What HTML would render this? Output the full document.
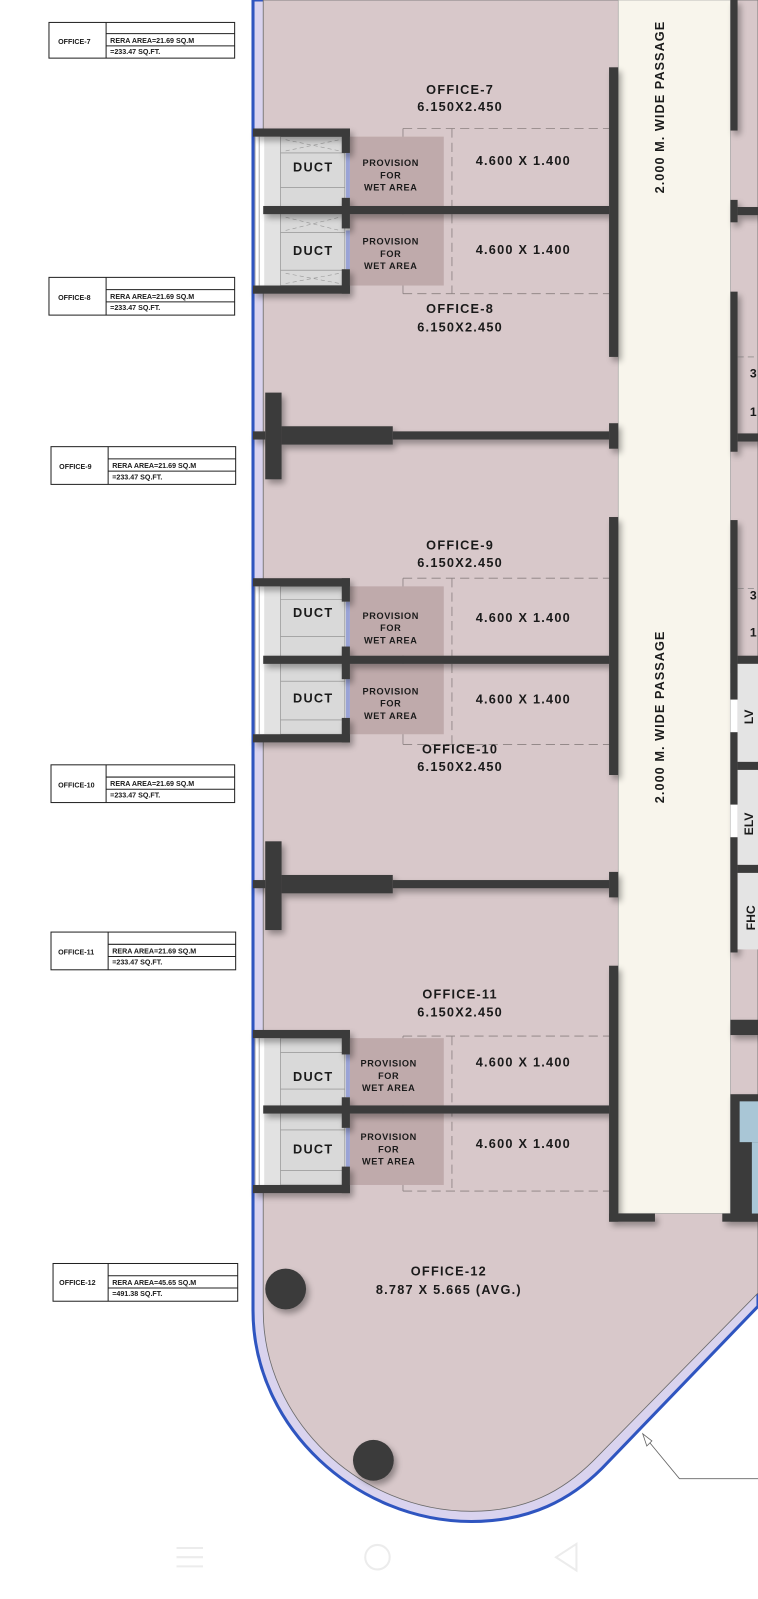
<!DOCTYPE html>
<html><head><meta charset="utf-8"><style>
html,body{margin:0;padding:0;background:#fff;}
svg{display:block;}
text{font-family:"Liberation Sans",Arial,sans-serif;font-weight:bold;fill:#1a1a1a;}
</style></head><body>
<svg width="758" height="1599" viewBox="0 0 743 1568" preserveAspectRatio="none" xmlns="http://www.w3.org/2000/svg">
<defs>
<filter id="sh" x="-20%" y="-20%" width="160%" height="160%"><feGaussianBlur in="SourceAlpha" stdDeviation="3"/><feOffset dx="3" dy="4"/><feComponentTransfer><feFuncA type="linear" slope="0.35"/></feComponentTransfer><feMerge><feMergeNode/><feMergeNode in="SourceGraphic"/></feMerge></filter>
</defs>
<rect width="743" height="1568" fill="#fff"/>
<!-- outer building -->
<path d="M248,0 L248,1285 C248,1400 350,1492 462,1492 C520,1492 560,1470 590,1440 L743,1281 L743,0 Z" fill="#d9d3ee" stroke="#2f55c0" stroke-width="3"/>
<path d="M258,0 L258,1285 C258,1392 352,1482 462,1482 C516,1482 552,1462 582,1432 L743,1268 L743,0 Z" fill="#d8c8ca" stroke="#6a6a6a" stroke-width="0.8"/>
<!-- passage -->
<rect x="606" y="0" width="110" height="1190" fill="#f8f5ec" stroke="#9a9a9a" stroke-width="0.6"/>
<text transform="translate(651,105) rotate(-90)" text-anchor="middle" font-size="12.5" letter-spacing="1">2.000 M. WIDE PASSAGE</text>
<text transform="translate(651,703) rotate(-90)" text-anchor="middle" font-size="12.5" letter-spacing="1">2.000 M. WIDE PASSAGE</text>

<!-- dashed room outlines -->
<g fill="none" stroke="#8a8080" stroke-width="0.8" stroke-dasharray="9,5">
<path d="M395,126 H597 M395,288 H597 M443,126 V288"/>
<path d="M395,567 H597 M395,730 H597 M443,567 V730"/>
<path d="M395,1016 H597 M395,1168 H597 M443,1016 V1168"/>
</g>
<g stroke="#8a8080" stroke-width="0.8">
<path d="M395,126 V288 M395,567 V730 M395,1016 V1168"/>
</g>

<!-- provision boxes -->
<g fill="#bfaaab">
<rect x="343" y="134" width="92" height="68"/><rect x="343" y="210" width="92" height="70"/>
<rect x="343" y="575" width="92" height="68"/><rect x="343" y="651" width="92" height="69"/>
<rect x="343" y="1018" width="92" height="66"/><rect x="343" y="1092" width="92" height="70"/>
</g>

<!-- duct blocks -->
<g id="ducts">
<g>
<rect x="250" y="134" width="93" height="146" fill="#e2e2e2"/>
<rect x="250" y="134" width="9" height="146" fill="#fff"/>
<rect x="275" y="134" width="63" height="146" fill="#d9d9d9" stroke="#888" stroke-width="0.6"/>
<path d="M275,150 H338 M275,184 H338 M275,228 H338 M275,265 H338" stroke="#888" stroke-width="0.6"/>
<path d="M280,137 L333,148 M280,148 L333,137 M280,268 L333,278 M280,278 L333,268 M280,213 L333,226 M280,226 L333,213" stroke="#999" stroke-width="0.6" stroke-dasharray="4,3"/>
<rect x="339" y="150" width="4" height="44" fill="#9aa3d6"/><rect x="339" y="226" width="4" height="38" fill="#9aa3d6"/>
</g>
<g>
<rect x="250" y="575" width="93" height="145" fill="#e2e2e2"/>
<rect x="250" y="575" width="9" height="145" fill="#fff"/>
<rect x="275" y="575" width="63" height="145" fill="#d9d9d9" stroke="#888" stroke-width="0.6"/>
<path d="M275,588 H338 M275,624 H338 M275,668 H338 M275,706 H338" stroke="#888" stroke-width="0.6"/>
<rect x="339" y="590" width="4" height="44" fill="#9aa3d6"/><rect x="339" y="666" width="4" height="38" fill="#9aa3d6"/>
</g>
<g>
<rect x="250" y="1018" width="93" height="144" fill="#e2e2e2"/>
<rect x="250" y="1018" width="9" height="144" fill="#fff"/>
<rect x="275" y="1018" width="63" height="144" fill="#d9d9d9" stroke="#888" stroke-width="0.6"/>
<path d="M275,1032 H338 M275,1068 H338 M275,1108 H338 M275,1148 H338" stroke="#888" stroke-width="0.6"/>
<rect x="339" y="1034" width="4" height="42" fill="#9aa3d6"/><rect x="339" y="1106" width="4" height="38" fill="#9aa3d6"/>
</g>
</g>
<!-- window ladder on left facade -->
<g stroke="#777" stroke-width="0.6" fill="none">
<path d="M250,134 V280 M254,134 V280 M250,575 V720 M254,575 V720 M250,1018 V1162 M254,1018 V1162"/>
</g>

<!-- walls -->
<g fill="#3b3b3b" filter="url(#sh)">
<!-- duct pair 1 -->
<rect x="248" y="126" width="95" height="8"/><rect x="335" y="126" width="8" height="24"/><rect x="335" y="194" width="8" height="30"/>
<rect x="258" y="202" width="339" height="8"/><rect x="335" y="264" width="8" height="24"/>
<rect x="248" y="280" width="95" height="8"/>
<!-- duct pair 2 -->
<rect x="248" y="567" width="95" height="8"/><rect x="335" y="567" width="8" height="23"/><rect x="335" y="634" width="8" height="32"/>
<rect x="258" y="643" width="339" height="8"/><rect x="335" y="704" width="8" height="24"/>
<rect x="248" y="720" width="95" height="8"/>
<!-- duct pair 3 -->
<rect x="248" y="1010" width="95" height="8"/><rect x="335" y="1010" width="8" height="24"/><rect x="335" y="1076" width="8" height="30"/>
<rect x="258" y="1084" width="339" height="8"/><rect x="335" y="1144" width="8" height="26"/>
<rect x="248" y="1162" width="95" height="8"/>
<!-- partition 8/9 -->
<rect x="260" y="385" width="16" height="85"/><rect x="276" y="418" width="109" height="18"/><rect x="385" y="423" width="212" height="8"/><rect x="248" y="423" width="12" height="8"/>
<!-- partition 10/11 -->
<rect x="260" y="825" width="16" height="87"/><rect x="276" y="858" width="109" height="18"/><rect x="385" y="863" width="212" height="8"/><rect x="248" y="863" width="12" height="8"/>
<!-- passage left wall -->
<rect x="597" y="66" width="9" height="284"/>
<rect x="597" y="415" width="9" height="25"/>
<rect x="597" y="507" width="9" height="253"/>
<rect x="597" y="855" width="9" height="25"/>
<rect x="597" y="947" width="9" height="251"/>
<rect x="597" y="1190" width="45" height="8"/>
<!-- passage right wall -->
<rect x="716" y="0" width="7" height="128"/>
<rect x="716" y="196" width="7" height="22"/><rect x="723" y="203" width="20" height="8"/>
<rect x="716" y="286" width="7" height="157"/><rect x="723" y="425" width="20" height="8"/>
<rect x="716" y="510" width="7" height="150"/><rect x="723" y="643" width="20" height="8"/>
<rect x="716" y="651" width="7" height="283"/>
<rect x="723" y="747" width="20" height="8"/><rect x="723" y="848" width="20" height="8"/>
<rect x="716" y="1000" width="27" height="15"/>
<rect x="716" y="1073" width="27" height="125"/>
<rect x="708" y="1190" width="35" height="8"/>
</g>
<!-- right side rooms -->
<rect x="723" y="651" width="20" height="96" fill="#e4e4e4"/>
<rect x="723" y="755" width="20" height="93" fill="#e4e4e4"/>
<rect x="723" y="856" width="20" height="75" fill="#e4e4e4"/>
<rect x="716" y="686" width="7" height="32" fill="#fff"/>
<rect x="716" y="789" width="7" height="32" fill="#fff"/>
<rect x="725" y="1080" width="18" height="40" fill="#a9c6d6"/>
<rect x="737" y="1120" width="6" height="70" fill="#a9c6d6"/>
<text transform="translate(738,703) rotate(-90)" text-anchor="middle" font-size="12">LV</text>
<text transform="translate(738,808) rotate(-90)" text-anchor="middle" font-size="12">ELV</text>
<text transform="translate(740,900) rotate(-90)" text-anchor="middle" font-size="12">FHC</text>
<path d="M723,350 H743 M723,577 H743" stroke="#777" stroke-width="0.6" stroke-dasharray="6,4"/>
<text x="735" y="370" font-size="12">3</text><text x="735" y="408" font-size="12">1</text>
<text x="735" y="588" font-size="12">3</text><text x="735" y="624" font-size="12">1</text>

<!-- columns -->
<circle cx="280" cy="1264" r="20" fill="#3b3b3b" filter="url(#sh)"/>
<circle cx="366" cy="1432" r="20" fill="#3b3b3b" filter="url(#sh)"/>

<!-- leader -->
<path d="M633,1410 L666,1450 H743" fill="none" stroke="#666" stroke-width="0.8"/>
<path d="M630,1406 L634,1418 L639,1413 Z" fill="#fff" stroke="#666" stroke-width="0.8"/>

<!-- room texts -->
<g font-size="12.5" text-anchor="middle" letter-spacing="1.2">
<text x="451" y="92">OFFICE-7</text><text x="451" y="109">6.150X2.450</text>
<text x="451" y="307">OFFICE-8</text><text x="451" y="325">6.150X2.450</text>
<text x="451" y="539">OFFICE-9</text><text x="451" y="556">6.150X2.450</text>
<text x="451" y="739">OFFICE-10</text><text x="451" y="756">6.150X2.450</text>
<text x="451" y="979">OFFICE-11</text><text x="451" y="997">6.150X2.450</text>
<text x="440" y="1251">OFFICE-12</text><text x="440" y="1269">8.787 X 5.665 (AVG.)</text>
<text x="513" y="162">4.600 X 1.400</text><text x="513" y="249">4.600 X 1.400</text>
<text x="513" y="610">4.600 X 1.400</text><text x="513" y="690">4.600 X 1.400</text>
<text x="513" y="1046">4.600 X 1.400</text><text x="513" y="1126">4.600 X 1.400</text>
<text x="307" y="168">DUCT</text><text x="307" y="250">DUCT</text>
<text x="307" y="605">DUCT</text><text x="307" y="689">DUCT</text>
<text x="307" y="1060">DUCT</text><text x="307" y="1131">DUCT</text>
</g>
<g font-size="9" text-anchor="middle" letter-spacing="0.6">
<text x="383" y="163">PROVISION</text><text x="383" y="175">FOR</text><text x="383" y="187">WET AREA</text>
<text x="383" y="240">PROVISION</text><text x="383" y="252">FOR</text><text x="383" y="264">WET AREA</text>
<text x="383" y="607">PROVISION</text><text x="383" y="619">FOR</text><text x="383" y="631">WET AREA</text>
<text x="383" y="681">PROVISION</text><text x="383" y="693">FOR</text><text x="383" y="705">WET AREA</text>
<text x="381" y="1046">PROVISION</text><text x="381" y="1058">FOR</text><text x="381" y="1070">WET AREA</text>
<text x="381" y="1118">PROVISION</text><text x="381" y="1130">FOR</text><text x="381" y="1142">WET AREA</text>
</g>

<!-- RERA label boxes -->
<g fill="none" stroke="#222" stroke-width="1">
<rect x="48" y="22" width="182" height="35"/><path d="M104,22 V57 M104,33 H230 M104,45 H230"/>
<rect x="48" y="272" width="182" height="37"/><path d="M104,272 V309 M104,284 H230 M104,296 H230"/>
<rect x="50" y="438" width="181" height="37"/><path d="M106,438 V475 M106,450 H231 M106,462 H231"/>
<rect x="50" y="750" width="180" height="37"/><path d="M104,750 V787 M104,762 H230 M104,774 H230"/>
<rect x="50" y="914" width="181" height="37"/><path d="M106,914 V951 M106,926 H231 M106,938 H231"/>
<rect x="52" y="1239" width="181" height="37"/><path d="M106,1239 V1276 M106,1251 H233 M106,1263 H233"/>
</g>
<g font-size="7">
<text x="57" y="43">OFFICE-7</text><text x="108" y="42">RERA AREA=21.69 SQ.M</text><text x="108" y="53">=233.47 SQ.FT.</text>
<text x="57" y="294">OFFICE-8</text><text x="108" y="293">RERA AREA=21.69 SQ.M</text><text x="108" y="304">=233.47 SQ.FT.</text>
<text x="58" y="460">OFFICE-9</text><text x="110" y="459">RERA AREA=21.69 SQ.M</text><text x="110" y="470">=233.47 SQ.FT.</text>
<text x="57" y="772">OFFICE-10</text><text x="108" y="771">RERA AREA=21.69 SQ.M</text><text x="108" y="782">=233.47 SQ.FT.</text>
<text x="57" y="936">OFFICE-11</text><text x="110" y="935">RERA AREA=21.69 SQ.M</text><text x="110" y="946">=233.47 SQ.FT.</text>
<text x="58" y="1260">OFFICE-12</text><text x="110" y="1260">RERA AREA=45.65 SQ.M</text><text x="110" y="1271">=491.38 SQ.FT.</text>
</g>

<!-- nav bar ghost icons -->
<g fill="none" stroke="#ececec" stroke-width="2">
<path d="M173,1518 H199 M173,1527 H199 M173,1536 H199"/>
<circle cx="370" cy="1527" r="12"/>
<path d="M565,1514 L545,1527 L565,1540 Z"/>
</g>
</svg>
</body></html>
